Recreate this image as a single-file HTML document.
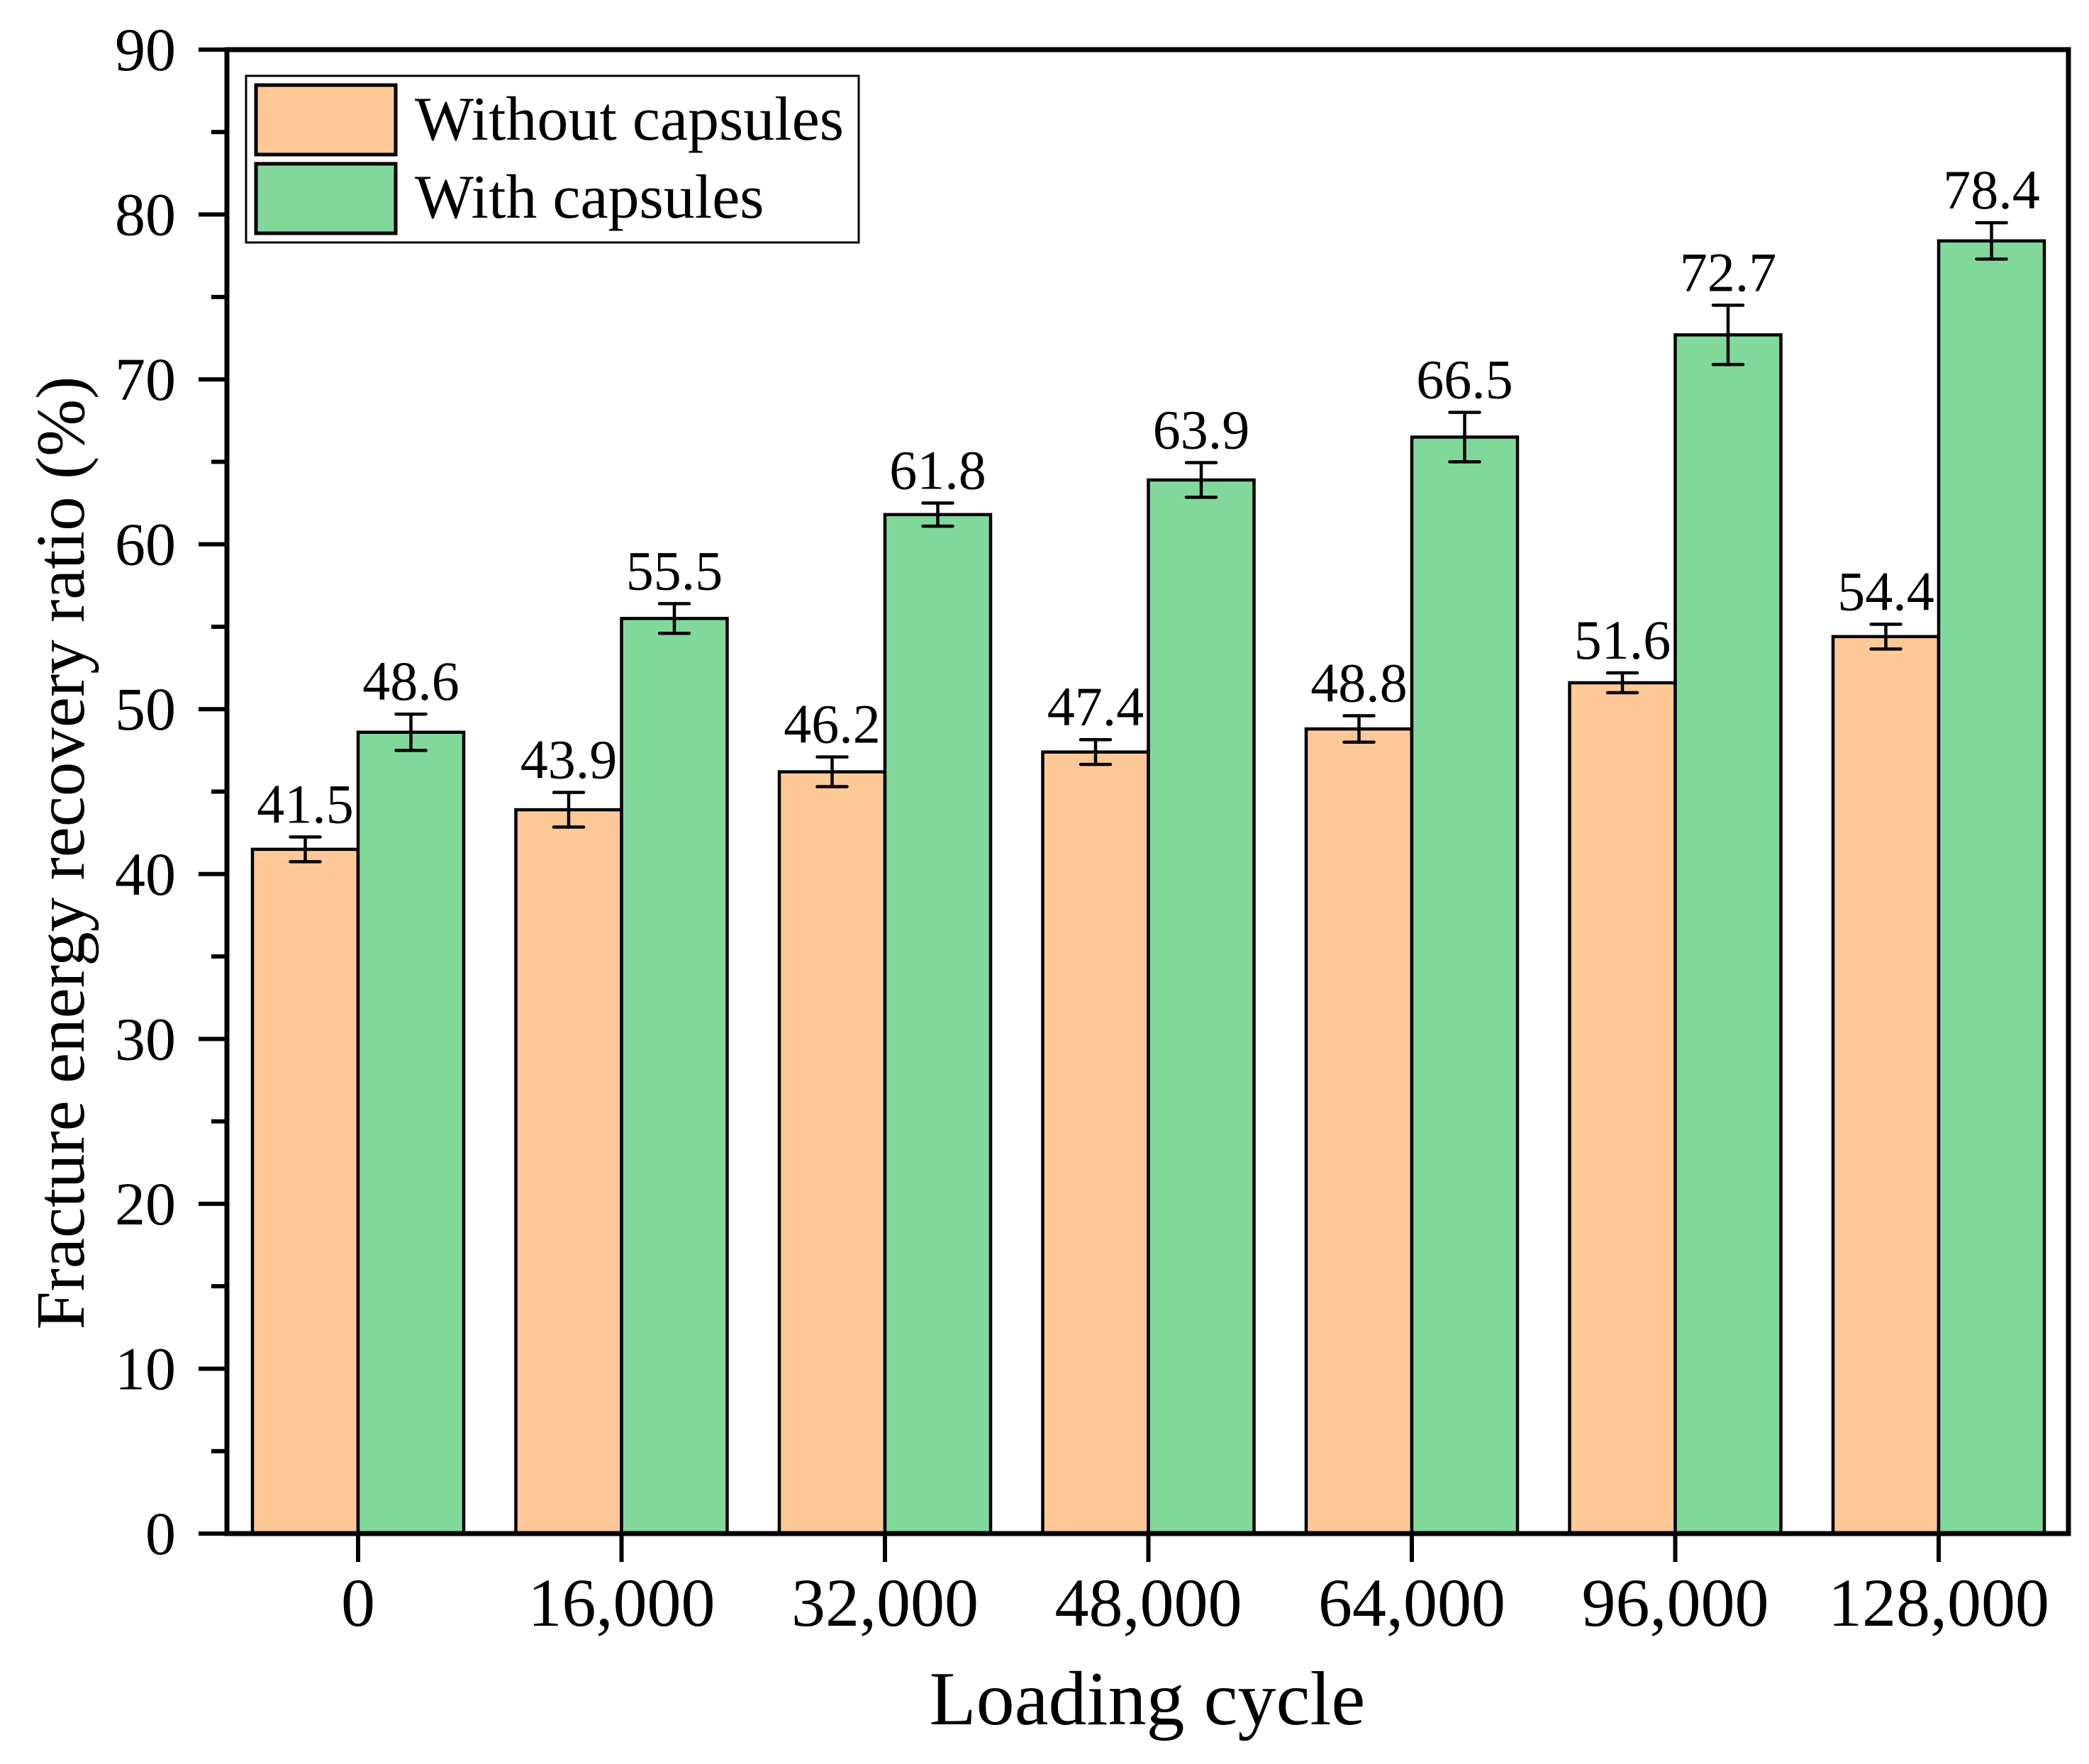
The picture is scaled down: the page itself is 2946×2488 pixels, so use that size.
<!DOCTYPE html>
<html><head><meta charset="utf-8"><style>
html,body{margin:0;padding:0;background:#fff}
svg{display:block}
text{font-family:"Liberation Serif",serif;fill:#000}
</style></head><body>
<svg id="chart" width="2946" height="2488" viewBox="0 0 2946 2488" xmlns="http://www.w3.org/2000/svg">
<g id="bars"></g>
<g id="axes"></g>
<g>
<rect x="347" y="107" width="864" height="235" fill="#fff" stroke="#000" stroke-width="3"/>
<rect x="361" y="120" width="197" height="98" fill="#FEC997" stroke="#000" stroke-width="5"/>
<rect x="361" y="231" width="197" height="98" fill="#80D99B" stroke="#000" stroke-width="5"/>
<text x="585" y="197" font-size="88">Without capsules</text>
<text x="585" y="307" font-size="88">With capsules</text>
</g>
<text x="1618" y="2432" font-size="108" text-anchor="middle">Loading cycle</text>
<text x="0" y="0" font-size="97" text-anchor="middle" transform="translate(118,1203) rotate(-90)">Fracture energy recovery ratio (%)</text>
</svg>
<script>
const categories = ["0","16,000","32,000","48,000","64,000","96,000","128,000"];
const withoutVals = [41.5,43.9,46.2,47.4,48.8,51.6,54.4];
const withoutErr = [0.75,1.05,0.9,0.75,0.8,0.6,0.75];
const withVals = [48.6,55.5,61.8,63.9,66.5,72.7,78.4];
const withErr = [1.1,0.9,0.7,1.05,1.5,1.8,1.1];
const yTicks = [0,10,20,30,40,50,60,70,80,90];

const NS = "http://www.w3.org/2000/svg";
const X0 = 320, X1 = 2917, Y0 = 2163, Y1 = 70;
const yScale = v => Y0 - (v / 90) * (Y0 - Y1);
const groupW = 371.5, barW = 149;
const xCenter = i => 505 + i * groupW;
function mk(tag, attrs, parent) {
  const el = document.createElementNS(NS, tag);
  for (const k in attrs) el.setAttribute(k, attrs[k]);
  parent.appendChild(el);
  return el;
}
const bars = document.getElementById('bars');
const axes = document.getElementById('axes');
function drawSeries(vals, errs, offset, color, name) {
  vals.forEach((v, i) => {
    const x = xCenter(i) + offset;
    const r = mk('rect', {x: x, y: yScale(v), width: barW, height: Y0 - yScale(v), fill: color, stroke: '#000', 'stroke-width': 4.5}, bars);
    
    
    const cx = x + barW / 2, top = yScale(v + errs[i]), bot = yScale(v - errs[i]);
    const g = mk('g', {stroke: '#000', 'stroke-width': 4.5, 'stroke-linecap': 'round'}, bars);
    
    
    mk('line', {x1: cx, x2: cx, y1: top, y2: bot}, g);
    mk('line', {x1: cx - 21, x2: cx + 21, y1: top, y2: top}, g);
    mk('line', {x1: cx - 21, x2: cx + 21, y1: bot, y2: bot}, g);
    const t = mk('text', {x: cx, y: top - 20, 'font-size': 78, 'text-anchor': 'middle'}, bars);
    
    
    t.textContent = v.toFixed(1);
  });
}
drawSeries(withoutVals, withoutErr, -barW, '#FEC997', 'without');
drawSeries(withVals, withErr, 0, '#80D99B', 'with');

const frame = mk('rect', {x: X0, y: Y1, width: X1 - X0, height: Y0 - Y1, fill: 'none', stroke: '#000', 'stroke-width': 7}, axes);


yTicks.forEach((v, i) => {
  const y = yScale(v);
  const l = mk('line', {x1: X0 - 40, x2: X0, y1: y, y2: y, stroke: '#000', 'stroke-width': 6}, axes);
  
  
  const t = mk('text', {x: 248, y: y + 29, 'font-size': 86, 'text-anchor': 'end'}, axes);
  
  
  t.textContent = v;
  if (i < yTicks.length - 1) {
    const ym = yScale(v + 5);
    const m = mk('line', {x1: X0 - 22, x2: X0, y1: ym, y2: ym, stroke: '#000', 'stroke-width': 6}, axes);
    
    
  }
});
categories.forEach((c, i) => {
  const x = xCenter(i);
  const l = mk('line', {x1: x, x2: x, y1: Y0, y2: Y0 + 40, stroke: '#000', 'stroke-width': 6}, axes);
  
  
  const t = mk('text', {x: x, y: 2293, 'font-size': 96, 'text-anchor': 'middle'}, axes);
  
  
  t.textContent = c;
});
</script>
</body></html>
